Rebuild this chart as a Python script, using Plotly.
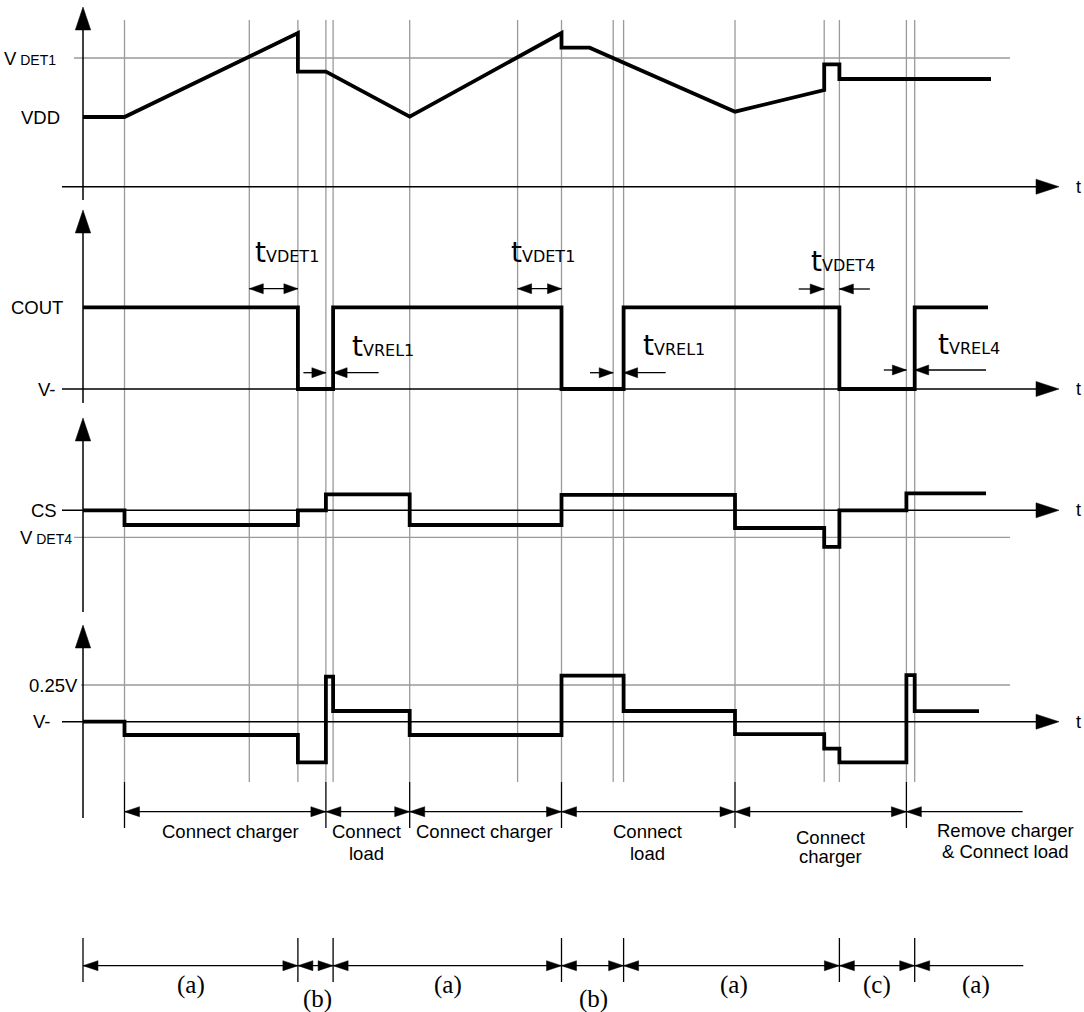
import plotly.graph_objects as go

W, H = 1084, 1012
ORIGIN_PX = 83.0          # pixel column of the time origin (vertical axes)

# ---------------- data ----------------
# event instants (time units) where the gray guide lines are drawn
event_t = [41.5, 166.3, 214.9, 242.9, 250.1, 326.7, 434.6, 478.5,
           530.2, 540.6, 652.0, 741.2, 756.4, 823.4, 831.7]

# VDD (piecewise linear)
vdd_t = [0, 41.5, 214.9, 214.9, 242.9, 326.7, 478.5, 478.5, 506.6,
         652.0, 741.2, 741.2, 756.4, 756.4, 908.0]
vdd_v = [69.7, 69.7, 153.7, 115.0, 115.0, 70.0, 153.7, 139.0, 139.0,
         75.0, 96.7, 122.4, 122.4, 107.7, 107.7]

# COUT (step, value held until next time)
cout_t = [0, 214.9, 250.1, 478.5, 540.6, 756.4, 831.7, 905.0]
cout_v = [81.7, 0, 81.7, 0, 81.7, 0, 81.7, 81.7]

# CS (step)
cs_t = [0, 41.5, 214.9, 242.9, 326.7, 478.5, 652.0, 741.2, 756.4, 823.4, 903.0]
cs_v = [0, -14.7, 0, 16.0, -14.7, 15.5, -17.7, -36.5, 0, 17.0, 17.0]

# V- (step)
vm_t = [0, 41.5, 214.9, 242.9, 250.1, 326.7, 478.5, 540.6, 652.0,
        741.2, 756.4, 823.4, 831.7, 896.0]
vm_v = [0, -13.3, -40.6, 45.0, 10.7, -13.3, 46.0, 10.7, -12.5,
        -27.0, -40.6, 46.5, 10.5, 10.5]

# reference levels
vdet1_level = 128.7
vdet4_level = -27.0
v025_level = 36.7

# tick / level labels
level_labels = ["V<span style='font-size:14px'> DET1</span>", "VDD", "COUT", "V-",
                "CS", "V<span style='font-size:14px'> DET4</span>", "0.25V", "V-"]
phase_labels = ["Connect charger", "Connect<br>load", "Connect charger",
                "Connect<br>load", "Connect<br>charger", "Remove charger<br>& Connect load"]
state_labels = ["(a)", "(b)", "(a)", "(b)", "(a)", "(c)", "(a)"]
delay_labels = ["VDET1", "VREL1", "VDET1", "VREL1", "VDET4", "VREL4"]

# ---------------- layout helpers ----------------
T1, T2, T3, T4, T5, T6, T7, T8, T9, T10, T11, T12, T13, T14, T15 = event_t
panels = [(0, 200, 186.7), (200, 400, 389.0), (400, 560, 510.3), (560, 780, 721.7)]


def ppy(p):
    return 1 - p / H


def tx(px):
    return px - ORIGIN_PX


shapes = []
annotations = []


def seg(t0, p0, t1, p1, color="black", width=1.5, layer="above"):
    shapes.append(dict(type="line", xref="x", yref="paper", x0=t0, x1=t1,
                       y0=ppy(p0), y1=ppy(p1), line=dict(color=color, width=width),
                       layer=layer))


def head(t, p, d, L=14, hw=5):
    if d == "r":
        pts = [(t, p), (t - L, p - hw), (t - L, p + hw)]
    elif d == "l":
        pts = [(t, p), (t + L, p - hw), (t + L, p + hw)]
    elif d == "u":
        pts = [(t, p), (t - hw, p + L), (t + hw, p + L)]
    else:
        pts = [(t, p), (t - hw, p - L), (t + hw, p - L)]
    path = "M " + " L ".join(f"{a:.2f},{ppy(b):.5f}" for a, b in pts) + " Z"
    shapes.append(dict(type="path", xref="x", yref="paper", path=path,
                       fillcolor="black", line=dict(color="black", width=0.5)))


def text(t, p, s, size=18, family="Liberation Sans, Arial", xanchor="center",
         yanchor="middle"):
    annotations.append(dict(x=t, y=ppy(p), xref="x", yref="paper", text=s,
                            showarrow=False, xanchor=xanchor, yanchor=yanchor,
                            font=dict(size=size, family=family, color="black")))


# gray guide lines
for e in event_t:
    seg(e, 20, e, 782, color="#9a9a9a", width=1.3, layer="below")

# vertical axes with arrows, horizontal t axes with arrows
ax_tops = [7, 210, 418, 625]
ax_bots = [200, 403, 612, 818]
for (top, bot, zero), at, ab in zip(panels, ax_tops, ax_bots):
    seg(0, at + 20, 0, ab, width=1.5)
    head(0, at, "u", L=23, hw=7.7)
    seg(tx(62), zero, tx(1038), zero, width=1.5)
    head(tx(1059), zero, "r", L=23, hw=7.5)
    text(tx(1074), zero, "t", size=18, xanchor="left")

# level labels
lab_pos = [(58, 58), (62, 117), (65, 307.3), (57, 389), (58.6, 510.3), (74, 537.3),
           (80, 685), (52.4, 721.7)]
for s, (xr, p) in zip(level_labels, lab_pos):
    text(tx(xr), p, s, size=18.5, xanchor="right")

# delay markers in COUT panel
seg(T2, 288.7, T3, 288.7, width=1.3)
head(T2, 288.7, "l"); head(T3, 288.7, "r")
seg(T7, 288.7, T8, 288.7, width=1.3)
head(T7, 288.7, "l"); head(T8, 288.7, "r")
for (ta, tb, p, la, lb) in [(T4, T5, 372.7, 303.4, 378.6), (T9, T10, 372.7, 590, 665.7),
                            (T12, T13, 289, 798.7, 869.9), (T14, T15, 370, 883.8, 986)]:
    seg(tx(la), p, ta, p, width=1.3); head(ta, p, "r")
    seg(tb, p, tx(lb), p, width=1.3); head(tb, p, "l")

delay_pos = [(253.4, 265), (350, 359), (508.6, 265), (640.7, 358), (809, 274), (935.8, 356.7)]
for s, (xl, pb) in zip(delay_labels, delay_pos):
    text(tx(xl), pb + 6, "<span style='font-size:28px'>t</span>" + s, size=16,
         family="DejaVu Sans", xanchor="left", yanchor="bottom")

# phase row
row1 = 811.7
seg(T1, row1, tx(1022.6), row1, width=1.3)
b1 = [T1, T4, T6, T8, T11, T14]
for b in b1:
    seg(b, 782, b, 828, width=1.3)
for a, b in zip(b1[:-1], b1[1:]):
    head(a, row1, "l", L=15); head(b, row1, "r", L=15)
head(T14, row1, "l", L=15)
phase_pos = [(230, 831.7), (366, 842.5), (484, 831.7), (647.5, 842.5), (830.5, 846.5),
             (1005, 841.2)]
for s, (xc, p) in zip(phase_labels, phase_pos):
    lines = s.split("<br>")
    if len(lines) == 1:
        text(tx(xc), p, s, size=18.5)
    else:
        gap = 21.5 if "charger" not in lines[1] else 19
        text(tx(xc), p - gap / 2, lines[0], size=18.5)
        text(tx(xc), p + gap / 2, lines[1], size=18.5)

# state row
row2 = 965.7
seg(0, row2, tx(1023.3), row2, width=1.3)
b2 = [0, T3, T5, T8, T10, T13, T15]
for b in b2:
    seg(b, 938, b, 982, width=1.3)
for a, b in zip(b2[:-1], b2[1:]):
    head(a, row2, "l", L=15); head(b, row2, "r", L=15)
head(T15, row2, "l", L=15)
state_pos = [(191.4, 985), (317.2, 999), (448.3, 985), (593.8, 999), (733.8, 985),
             (876.8, 985), (975.8, 985)]
for s, (xc, p) in zip(state_labels, state_pos):
    text(tx(xc), p, s, size=25, family="Liberation Serif, Times New Roman")

# reference lines in panel coordinates
for lvl, yref, x0 in [(vdet1_level, "y", tx(74)), (vdet4_level, "y3", tx(74)),
                      (v025_level, "y4", tx(81))]:
    shapes.append(dict(type="line", xref="x", yref=yref, x0=x0, x1=tx(1010), y0=lvl, y1=lvl,
                       line=dict(color="#9a9a9a", width=1.3), layer="below"))

fig = go.Figure()
wave = dict(color="black", width=3.8)
fig.add_trace(go.Scatter(x=vdd_t, y=vdd_v, mode="lines", line=wave, xaxis="x", yaxis="y",
                         hoverinfo="skip"))
fig.add_trace(go.Scatter(x=cout_t, y=cout_v, mode="lines", line=dict(wave, shape="hv"),
                         xaxis="x", yaxis="y2", hoverinfo="skip"))
fig.add_trace(go.Scatter(x=cs_t, y=cs_v, mode="lines", line=dict(wave, shape="hv"),
                         xaxis="x", yaxis="y3", hoverinfo="skip"))
fig.add_trace(go.Scatter(x=vm_t, y=vm_v, mode="lines", line=dict(wave, shape="hv"),
                         xaxis="x", yaxis="y4", hoverinfo="skip"))

layout = dict(width=W, height=H, autosize=False, showlegend=False,
              margin=dict(l=0, r=0, t=0, b=0, pad=0),
              paper_bgcolor="white", plot_bgcolor="rgba(0,0,0,0)",
              xaxis=dict(range=[-ORIGIN_PX, W - ORIGIN_PX], domain=[0, 1], visible=False,
                         fixedrange=True),
              shapes=shapes, annotations=annotations)
for i, (top, bot, zero) in enumerate(panels):
    name = "yaxis" if i == 0 else f"yaxis{i + 1}"
    layout[name] = dict(domain=[1 - bot / H, 1 - top / H], range=[-(bot - zero), zero - top],
                        visible=False, fixedrange=True)
fig.update_layout(**layout)

fig.write_html("out.html", config={"displayModeBar": False},
               post_script="document.body.style.margin='0px';document.body.style.overflow='hidden';")
